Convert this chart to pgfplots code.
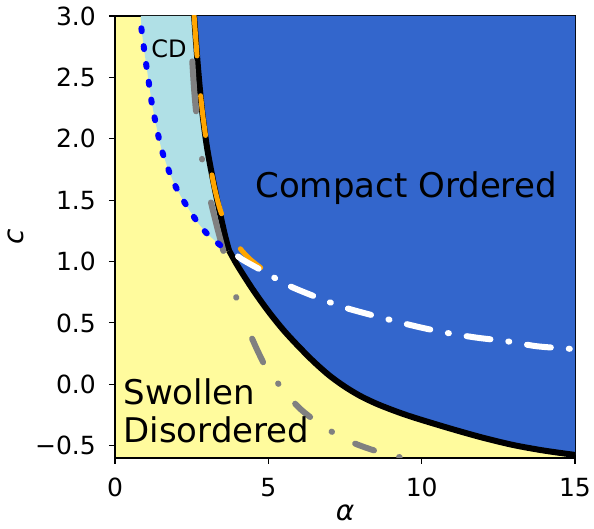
\documentclass[border=0pt]{standalone}
\usepackage{fontspec}
\setmainfont{DejaVu Sans}
\usepackage{pgfplots}
\pgfplotsset{compat=1.18}
\definecolor{swyellow}{HTML}{FFFB9D}
\definecolor{cdblue}{HTML}{B0E0E6}
\definecolor{coblue}{HTML}{3366CC}
\definecolor{dotblue}{HTML}{0000FF}
\definecolor{dorange}{HTML}{FFA500}
\definecolor{dgray}{HTML}{808080}
\begin{document}
\begin{tikzpicture}
\useasboundingbox (-115pt,-71pt) rectangle (479pt,458pt);
\begin{axis}[
  scale only axis, width=460pt, height=442pt,
  at={(0,0)}, anchor=south west,
  xmin=0, xmax=15, ymin=-0.6, ymax=3.0,
  xtick={0,5,10,15}, xticklabels={0,5,10,15},
  ytick={-0.5,0,0.5,1,1.5,2,2.5,3},
  yticklabels={−0.5,0.0,0.5,1.0,1.5,2.0,2.5,3.0},
  tick align=outside, tick pos=left,
  major tick length=6pt,
  tick style={black, line width=1.1pt},
  axis line style={black, line width=1.1pt},
  ticklabel style={font=\fontsize{25}{30}\selectfont},
  yticklabel style={inner sep=0pt, anchor=east, xshift=-13pt},
  xticklabel style={inner sep=0pt, anchor=north, yshift=-14pt},
  axis background/.style={fill=swyellow},
  xlabel={\textit{α}}, ylabel={\textit{c}},
  label style={font=\fontsize{28}{34}\selectfont, inner sep=0pt},
  xlabel style={at={(axis description cs:0.5,-0.124)}, anchor=center},
  ylabel style={at={(axis description cs:-0.215,0.5)}, anchor=center},
]
% CD region
\addplot[fill=cdblue, draw=none] coordinates {
(0.84,3.00) (0.86,2.90) (0.98,2.67) (1.09,2.48) (1.20,2.29) (1.35,2.10) (1.50,1.93) (1.68,1.79) (1.90,1.65) (2.15,1.53) (2.45,1.41) (2.72,1.31) (2.99,1.23) (3.26,1.17) (3.50,1.12) (3.72,1.09)
(3.60,1.20) (3.40,1.42) (3.20,1.66) (3.00,1.93) (2.83,2.25) (2.70,2.60) (2.58,3.00)
} -- cycle;
% Compact ordered region
\addplot[fill=coblue, draw=none] coordinates {
(2.58,3.00) (2.70,2.60) (2.83,2.25) (3.00,1.93) (3.20,1.66) (3.40,1.42) (3.60,1.20) (3.72,1.09) (4.00,0.965) (4.50,0.77) (5.00,0.595) (5.50,0.44) (6.00,0.305) (6.50,0.18) (7.00,0.07) (7.50,-0.02) (8.00,-0.095) (8.50,-0.155) (9.00,-0.205) (9.50,-0.25) (10.00,-0.29) (11.00,-0.365) (12.00,-0.435) (13.00,-0.495) (14.00,-0.54) (15.00,-0.575) (15.00,3.00)
} -- cycle;
% black boundary
\addplot[black, line width=6pt, smooth, tension=0.5] coordinates {
(2.58,3.00) (2.70,2.60) (2.83,2.25) (3.00,1.93) (3.20,1.66) (3.40,1.42) (3.60,1.20) (3.72,1.09)
};
\addplot[black, line width=6pt, smooth, tension=0.5] coordinates {
(3.72,1.09) (4.00,0.965) (4.50,0.77) (5.00,0.595) (5.50,0.44) (6.00,0.305) (6.50,0.18) (7.00,0.07) (7.50,-0.02) (8.00,-0.095) (8.50,-0.155) (9.00,-0.205) (9.50,-0.25) (10.00,-0.29) (11.00,-0.365) (12.00,-0.435) (13.00,-0.495) (14.00,-0.54) (15.00,-0.575)
};
% gray dash-dot (upper part)
\addplot[dgray, line width=6pt, line cap=round, smooth, tension=0.5, dash pattern=on 50pt off 48pt on 0.5pt off 44pt] coordinates {
(2.52,2.63) (2.58,2.40) (2.66,2.18) (2.76,1.97) (2.88,1.77) (3.02,1.60) (3.17,1.44) (3.34,1.27) (3.52,1.10) (3.70,0.92) (3.90,0.75) (4.10,0.60) (4.30,0.47) (4.60,0.30) (4.83,0.18)
};
% gray dash-dot (lower part)
\addplot[dgray, line width=6pt, line cap=round, smooth, tension=0.5, dash pattern=on 20pt off 26pt on 0.5pt off 26pt, dash phase=20pt] coordinates {
(4.83,0.18) (5.40,-0.02) (6.00,-0.19) (6.60,-0.31) (7.30,-0.42) (7.90,-0.49) (8.60,-0.55) (9.40,-0.60)
};
% blue dotted
\addplot[dotblue, line width=6pt, line cap=round, smooth, tension=0.5, dash pattern=on 3pt off 15pt] coordinates {
(0.86,2.90) (0.98,2.67) (1.09,2.48) (1.20,2.29) (1.35,2.10) (1.50,1.93) (1.68,1.79) (1.90,1.65) (2.15,1.53) (2.45,1.41) (2.72,1.31) (2.99,1.23) (3.26,1.17) (3.50,1.12) (3.72,1.09)
};
% orange dashed
\addplot[dorange, line width=5pt, line cap=round, smooth, tension=0.5, dash pattern=on 40pt off 40pt] coordinates {
(2.58,3.00) (2.70,2.60) (2.84,2.24) (3.02,1.91) (3.22,1.63) (3.42,1.43) (3.63,1.29) (3.86,1.19) (4.10,1.10) (4.40,1.02) (4.75,0.95)
};
% white dash-dot
\addplot[white, line width=6pt, line cap=round, smooth, tension=0.5, dash pattern=on 24pt off 18pt on 1pt off 18pt, dash phase=50pt] coordinates {
(3.74,1.10) (4.13,1.02) (4.84,0.92) (5.70,0.80) (6.78,0.69) (7.56,0.62) (8.74,0.54) (9.85,0.47) (10.80,0.42) (11.80,0.38) (12.80,0.35) (13.76,0.31) (14.80,0.29) (15.00,0.285)
};
\node[font=\fontsize{24}{29}\selectfont, inner sep=0pt] at (axis cs:1.76,2.73) {CD};
\node[anchor=base, font=\fontsize{34}{41}\selectfont, inner sep=0pt] at (axis cs:9.49,1.519) {Compact Ordered};
\node[anchor=base west, font=\fontsize{34}{41}\selectfont, inner sep=0pt] at (axis cs:0.27,-0.165) {Swollen};
\node[anchor=base west, font=\fontsize{34}{41}\selectfont, inner sep=0pt] at (axis cs:0.27,-0.474) {Disordered};
\end{axis}
\end{tikzpicture}
\end{document}
